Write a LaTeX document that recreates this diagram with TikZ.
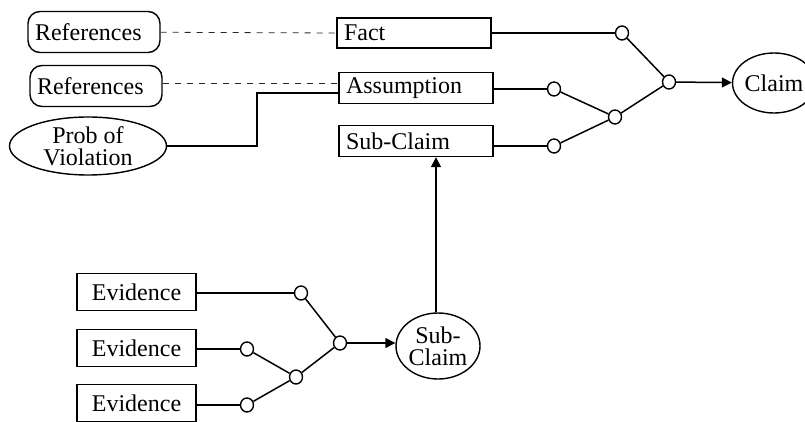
\documentclass[tikz,border=0pt]{standalone}
\usepackage{fontspec}
\setmainfont{Liberation Serif}
\usetikzlibrary{positioning,arrows.meta,shapes.geometric}

\begin{document}
\begin{tikzpicture}
[x=1pt, y=-1pt, font=\fontsize{24}{22}\selectfont,
    >={Triangle[length=10pt,width=10pt]},
    every node/.style={draw, line width=1.4pt, inner sep=0pt},
    refbox/.style={rectangle, rounded corners=12pt, minimum height=41pt,
        text width=118pt, align=left, inner xsep=7pt},
    itembox/.style={rectangle, minimum height=30pt, text width=140pt,
        align=left, inner xsep=7pt},
    evbox/.style={rectangle, minimum width=119pt, minimum height=37pt},
    oval/.style={ellipse, align=center, inner sep=0pt},
    joint/.style={ellipse, fill=white, minimum width=13pt, minimum height=14pt},
    link/.style={draw, line width=1.5pt},
    reflink/.style={draw=black!85, line width=0.8pt, dash pattern=on 6pt off 6pt},
    ]
    \useasboundingbox (0,0) rectangle (805,422);

    \node (ref1) [refbox] at (94,32) {References};
    \node (ref2) [refbox] at (96,86) {References};
    \node (prob) [oval, minimum width=157pt, minimum height=58pt] at (88,146)
        {Prob of\\Violation};

    \node (fact) [itembox] at (414,33) {Fact};
    \node (assump) [itembox, minimum height=31pt] at (416,88) {Assumption};
    \node (subbox) [itembox, minimum height=31pt] at (416,141) {Sub-Claim};
    \coordinate (assump_ref) at ([yshift=5pt]assump.west);
    \coordinate (assump_prob) at ([yshift=-5pt]assump.west);

    \node (c1) [joint] at (622,33) {};
    \node (c2) [joint] at (554,89) {};
    \node (c3) [joint] at (554,146) {};
    \node (c4) [joint] at (615,117) {};
    \node (c5) [joint] at (669,82) {};
    \node (claim) [oval, minimum width=66pt, minimum height=60pt] at (774,83) {Claim};

    \node (ev1) [evbox] at (136.5,292) {Evidence};
    \node (ev2) [evbox] at (136.5,348) {Evidence};
    \node (ev3) [evbox] at (136.5,403) {Evidence};

    \node (e1) [joint] at (301,293) {};
    \node (e2) [joint] at (247,349) {};
    \node (e3) [joint] at (247,405) {};
    \node (e4) [joint] at (296,377) {};
    \node (e5) [joint] at (340,343) {};
    \node (subell) [oval, minimum width=84pt, minimum height=66pt] at (438,346)
        {Sub-\\Claim};
    \coordinate (subell_top) at ([xshift=-2pt]subell.north);

    % references and violation
    \draw [reflink] (ref1) -- (fact.west);
    \draw [reflink] (ref2.east |- assump_ref) -- (assump_ref);
    \draw [link] (prob.east) -- ++(90,0) |- (assump_prob);

    % upper tree
    \draw [link] (fact) -- (c1);
    \draw [link] (assump.east |- c2) -- (c2);
    \draw [link] (subbox.east |- c3) -- (c3);
    \draw [link] (c1) -- (c5);
    \draw [link] (c2) -- (c4);
    \draw [link] (c3) -- (c4);
    \draw [link] (c4) -- (c5);
    \draw [link, ->] (c5) -- (claim);

    % lower tree
    \draw [link] (ev1.east |- e1) -- (e1);
    \draw [link] (ev2.east |- e2) -- (e2);
    \draw [link] (ev3.east |- e3) -- (e3);
    \draw [link] (e1) -- (e5);
    \draw [link] (e2) -- (e4);
    \draw [link] (e3) -- (e4);
    \draw [link] (e4) -- (e5);
    \draw [link, ->] (e5) -- (subell.west |- e5);
    \draw [link, ->] (subell_top) -- (subell_top |- subbox.south);

\end{tikzpicture}
\end{document}
